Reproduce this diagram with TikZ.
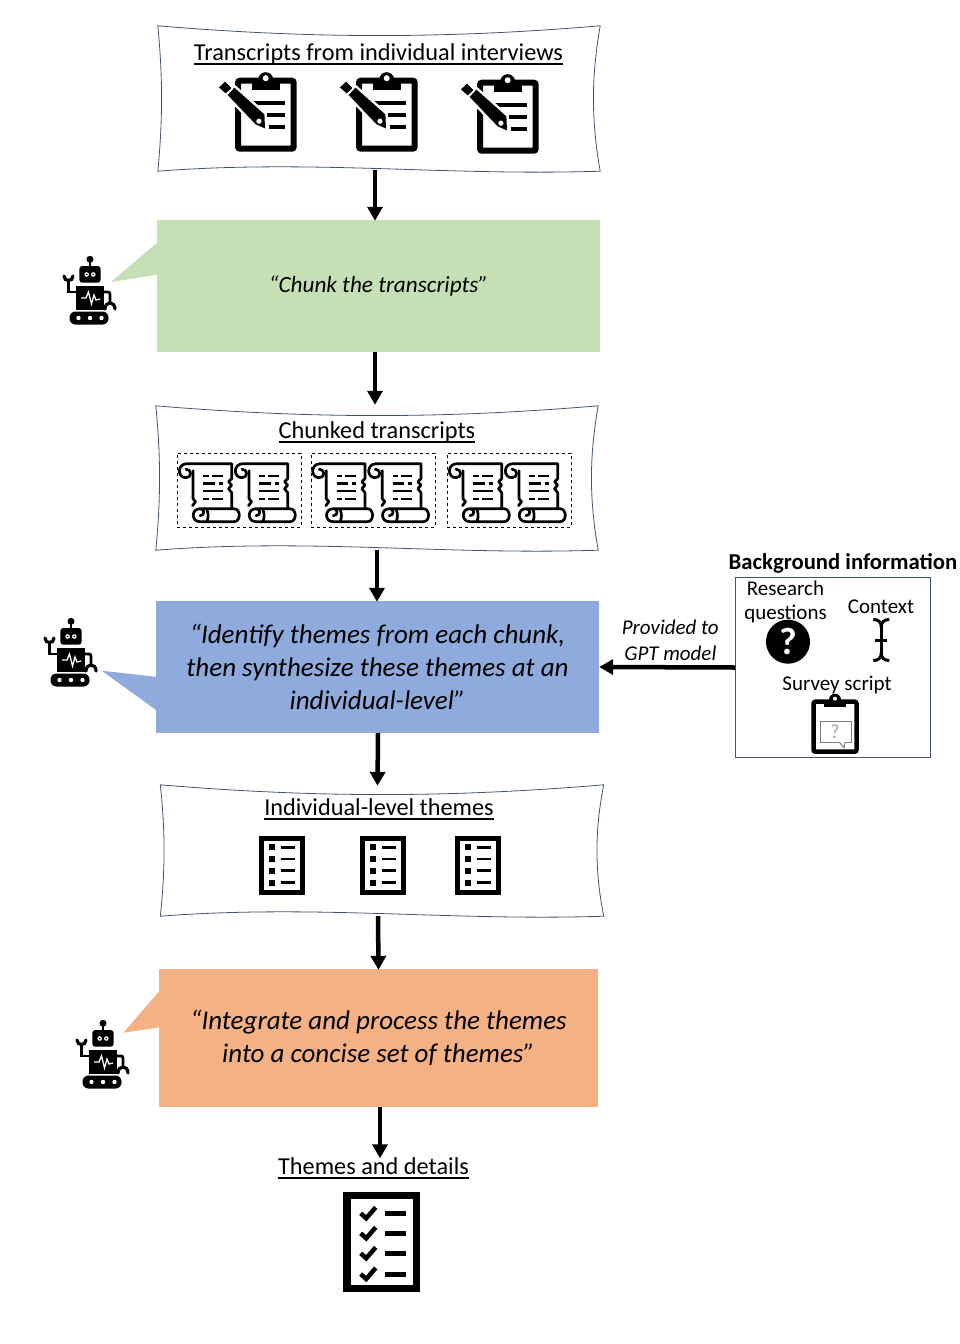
\documentclass[tikz,border=0pt]{standalone}
\usepackage{fontspec}
\setmainfont{Carlito}
\usetikzlibrary{calc, positioning, arrows.meta}

\definecolor{docnavy}{HTML}{44546A}
\definecolor{promptgreen}{HTML}{C5E0B4}
\definecolor{promptblue}{HTML}{8FAADC}
\definecolor{promptorange}{HTML}{F4B183}

\newcommand{\wavydoc}[1]{
    \draw[docline] (#1.north west)
        .. controls ($(#1.north west)!.35!(#1.north east)+(0,13)$) and ($(#1.north west)!.65!(#1.north east)+(0,13)$) .. (#1.north east)
        .. controls ($(#1.north east)!.35!(#1.south east)+(-9,0)$) and ($(#1.north east)!.65!(#1.south east)+(-9,0)$) .. (#1.south east)
        .. controls ($(#1.south west)!.65!(#1.south east)+(0,5)$) and ($(#1.south west)!.35!(#1.south east)+(0,-12)$) .. (#1.south west)
        .. controls ($(#1.south west)!.35!(#1.north west)+(5,0)$) and ($(#1.south west)!.65!(#1.north west)+(5,0)$) .. (#1.north west) -- cycle;
}

\tikzset{
    docline/.style={draw=docnavy, line width=.8pt},
    docbox/.style={rectangle, inner sep=0pt},
    promptbox/.style={rectangle, inner sep=0pt, align=center, font=\fontsize{27}{33}\selectfont\itshape},
    titletext/.style={inner sep=0pt, font=\fontsize{24.3}{28}\selectfont},
    smalltext/.style={inner sep=0pt, align=center, font=\fontsize{21}{24}\selectfont},
    ulline/.style={line width=1.6pt},
    flow/.style={line width=4.5pt, -{Triangle[length=14pt, width=15pt]}},
    iconline/.style={line width=2.7pt, line cap=round, line join=round},
    robot/.pic={
        \fill (0,-30.7) circle (3.5);
        \draw[line width=1.8pt] (0,-30) -- (0,-24);
        \fill[rounded corners=3pt] (-10.7,-24) rectangle (10.7,-7.3);
        \foreach \ex in {-3.3,3.3} {
            \fill[white] (\ex,-15.5) circle (2.3);
            \fill (\ex,-15.5) circle (.9);
        }
        \fill (-14,-4) rectangle (13.5,20);
        \draw[white, line width=1.3pt] (-9,8) -- (-4,8) -- (-1.5,2) -- (1.5,14) -- (4,5) -- (6,10) -- (10,9);
        \draw[line width=2.8pt] (-14,2) -- (-21.5,2) -- (-21.5,-9);
        \draw[line width=3.2pt, line cap=round] (-26,-14) .. controls (-26,-8) and (-17,-8) .. (-17,-14);
        \draw[line width=2.8pt, rounded corners=2pt] (13.5,2) -- (20,2) -- (20,12);
        \draw[line width=3.2pt, line cap=round] (15,19) .. controls (15,11) and (25,11) .. (25,19);
        \fill[rounded corners=6pt] (-20.5,21.5) rectangle (18.5,34.5);
        \foreach \ex in {-11.5,0,11.5}
            \fill[white] (\ex,28) circle (2.2);
    },
    notepad/.pic={
        \draw[line width=6pt, rounded corners=2pt] (-27.7,-34) rectangle (28,34);
        \fill (-14,-32) rectangle (14,-25);
        \fill (0,-35) circle (7.5);
        \fill[white] (0,-36.5) circle (3);
        \foreach \ly/\lx in {-12/-14, 0.3/1, 12/3.7}
            \draw[line width=4pt] (\lx,\ly) -- (19.3,\ly);
        \fill[white, draw=white, line width=5pt] (-46.7,-27.3) -- (-40.7,-33) -- (-31.3,-27) -- (-1.3,-0.3) -- (-0.7,13.7) -- (-10,9.7) -- (-38,-19.7) -- cycle;
        \fill (-46.7,-27.3) -- (-40.7,-33) -- (-34.3,-26.7) -- (-40,-21.3) -- cycle;
        \fill (-38,-19.7) -- (-31.3,-27) -- (-1.3,-0.3) -- (-0.7,13.7) -- (-10,9.7) -- cycle;
        \fill[white] (-6.8,6.5) circle (2.6);
    },
    scrollicon/.pic={
        \draw[iconline] (21.7,-13) -- (21.7,-28) -- (-23,-28) .. controls (-33,-28) and (-33,-14) .. (-24,-14) .. controls (-18,-14) and (-18,-22.5) .. (-24,-22.5);
        \draw[iconline] (21.7,-13) -- (18.5,-10) -- (21.7,-6.5) -- (18.5,-3) -- (21.7,1) -- (21.7,17);
        \draw[iconline] (-17,-21) -- (-17,7) -- (-14.5,10) -- (-17.5,14);
        \draw[iconline] (-10,17) -- (24,17) .. controls (31,17) and (31,30) .. (24,30) -- (-10,30) .. controls (-19,30) and (-19,17) .. (-10,17) .. controls (-5,17) and (-5,24) .. (-10,24);
        \draw[iconline] (-3,18) .. controls (-1.5,22) and (-1.5,26) .. (-3,29.5);
        \draw[line width=2.4pt] (-6.7,-15.7) -- (-1.5,-15.7) (1.7,-15.7) -- (12.7,-15.7);
        \draw[line width=2.4pt] (-6.7,-8.3) -- (5,-8.3) (8.5,-8.3) -- (12.7,-8.3);
        \draw[line width=2.4pt] (-6.7,-1) -- (12.7,-1);
        \draw[line width=2.4pt] (-6.7,7) -- (-1.5,7) (1.7,7) -- (12.7,7);
    },
    listicon/.pic={
        \draw[line width=5pt] (-20.5,-27) rectangle (20.5,27);
        \foreach \ly in {-18,-6.3,5.3,17.3} {
            \fill (-13,\ly-3) rectangle (-7,\ly+3);
            \draw[line width=2.8pt] (-1,\ly) -- (13.3,\ly);
        }
    },
    checkicon/.pic={
        \draw[line width=7.3pt] (-34.6,-46.5) rectangle (34.6,46.5);
        \foreach \ly in {-29,-9,11,31.7} {
            \draw[line width=4.5pt] (-21,\ly) -- (-15.5,\ly+5) -- (-6,\ly-6);
            \draw[line width=5pt] (3.3,\ly) -- (24.3,\ly);
        }
    },
    helpicon/.pic={
        \fill (0,0) circle (22);
        \node[inner sep=0pt, white, font=\fontsize{38}{38}\selectfont\bfseries] at (0,0) {?};
    },
    contexticon/.pic={
        \draw[line width=3pt] (0,-13) -- (0,13) (-6,0) -- (6,0);
        \draw[line width=3pt] (-8,-20.5) .. controls (-3,-20.5) and (0,-18) .. (0,-13) .. controls (0,-18) and (3,-20.5) .. (8,-20.5);
        \draw[line width=3pt] (-8,20.5) .. controls (-3,20.5) and (0,18) .. (0,13) .. controls (0,18) and (3,20.5) .. (8,20.5);
    },
    surveyicon/.pic={
        \draw[line width=4.5pt, rounded corners=2pt] (-21.5,-25) rectangle (21.5,25);
        \fill (-11,-26) rectangle (11,-20);
        \fill (0,-27) circle (6);
        \fill[white] (0,-28) circle (2);
        \draw[gray, line width=1pt] (-15,-5) rectangle (16.7,15.7);
        \fill[white] (4.5,14) rectangle (10,17);
        \draw[gray, line width=1pt] (4.5,15.7) -- (9,21) -- (10,15.7);
        \node[inner sep=0pt, gray!70, font=\fontsize{20}{20}\selectfont] at (0,5) {?};
    },
}

\begin{document}
\begin{tikzpicture}[x=1pt, y=-1pt]
    \useasboundingbox (0,0) rectangle (960,1344);

    % wavy document boxes
    \node[docbox, minimum width=442pt, minimum height=145pt] (docA) at (379,98.5) {};
    \node[docbox, minimum width=442pt, minimum height=144pt] (docB) at (377,478) {};
    \node[docbox, minimum width=443pt, minimum height=131pt] (docC) at (382,850.5) {};
    \foreach \d in {docA,docB,docC} {
        \wavydoc{\d}
    }

    % prompts
    \node[promptbox, fill=promptgreen, minimum width=443pt, minimum height=132pt, font=\fontsize{23.2}{28}\selectfont\itshape] (promptA) at (378.5,286) {“Chunk the transcripts”};
    \node[promptbox, fill=promptblue, minimum width=443pt, minimum height=132pt] (promptB) at (377.5,667) {“Identify themes from each chunk,\\then synthesize these themes at an\\individual-level”};
    \node[promptbox, fill=promptorange, minimum width=439pt, minimum height=138pt] (promptC) at (378.5,1038) {“Integrate and process the themes\\into a concise set of themes”};

    \fill[promptgreen] ([yshift=-23pt]promptA.north west) -- (111,282) -- ([yshift=-55pt]promptA.north west) -- cycle;
    \fill[promptblue] ([yshift=-76pt]promptB.north west) -- (101.7,670.7) -- ([yshift=-109pt]promptB.north west) -- cycle;
    \fill[promptorange] ([yshift=-23pt]promptC.north west) -- (123.3,1032.7) -- ([yshift=-58.7pt]promptC.north west) -- cycle;

    \pic at (90,290) {robot};
    \pic at (71,652) {robot};
    \pic at (103,1054) {robot};

    % titles
    \node[titletext] (titleA) at (378.5,54) {Transcripts from individual interviews};
    \node[titletext] (titleB) at (377,432) {Chunked transcripts};
    \node[titletext] (titleC) at (379,807) {Individual-level themes};
    \node[titletext] (titleD) at (373.5,1166) {Themes and details};
    \foreach \t in {titleA,titleB,titleC,titleD}
        \draw[ulline] ([yshift=-3.5pt]\t.base west) -- ([yshift=-3.5pt]\t.base east);

    % icons
    \foreach \px/\py in {265.7/114.7, 386.7/114.7, 507.7/116.7}
        \pic at (\px,\py) {notepad};

    \node[docbox, draw, dashed, line width=.5pt, minimum width=124pt, minimum height=74pt] (chunkA) at (239,490) {};
    \node[docbox, draw, dashed, line width=.5pt, minimum width=124pt, minimum height=74pt] (chunkB) at (373,490) {};
    \node[docbox, draw, dashed, line width=.5pt, minimum width=124pt, minimum height=74pt] (chunkC) at (509,490) {};
    \foreach \px in {210,266,343.3,399.3,480,536}
        \pic at (\px,491.7) {scrollicon};

    \foreach \px in {281.7,383,477.7}
        \pic at (\px,865.3) {listicon};
    \pic at (381.7,1242.3) {checkicon};

    % background information
    \node[docbox, draw=docnavy, line width=.8pt, minimum width=195pt, minimum height=179.6pt] (background) at (833.2,667.5) {};
    \node[titletext, font=\fontsize{22.7}{28}\selectfont\bfseries] (backTitle) at (843,563) {Background information};
    \node[smalltext] (research) at (785.5,602) {Research\\questions};
    \node[smalltext] (context) at (881,607) {Context};
    \node[smalltext] (survey) at (837,685) {Survey script};
    \pic at (788,641.7) {helpicon};
    \pic at (881.3,640) {contexticon};
    \pic at (835,726.7) {surveyicon};

    % arrows
    \draw[flow] ([xshift=-4pt, yshift=1pt]docA.south) -- ([xshift=-3.5pt, yshift=-1pt]promptA.north);
    \draw[flow] ([xshift=-3.5pt]promptA.south) -- ([xshift=-2pt, yshift=1pt]docB.north);
    \draw[flow] (docB.south) -- ([yshift=-1pt]promptB.north -| docB.south);
    \draw[flow] ([xshift=.5pt]promptB.south) -- ([xshift=-4.5pt, yshift=-1pt]docC.north);
    \draw[flow] ([xshift=-4pt]docC.south) -- ([yshift=-1pt]promptC.north);
    \draw[flow] ([xshift=1.5pt]promptC.south) -- ([xshift=1.5pt, yshift=-1pt]promptC.south |- titleD.north);
    \draw[flow] (background.west) -- (promptB.east);
    \node[smalltext, font=\fontsize{21}{26}\selectfont\itshape, above=7pt of background.west, anchor=south, xshift=-65pt] (provided) {Provided to\\GPT model};
\end{tikzpicture}
\end{document}
